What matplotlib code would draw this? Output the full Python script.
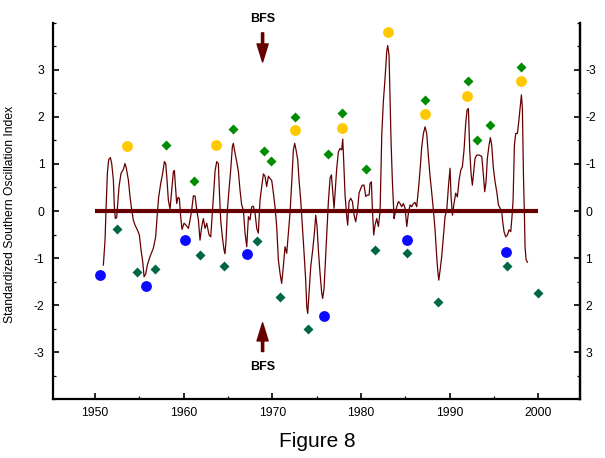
import matplotlib
matplotlib.use("Agg")
import matplotlib.pyplot as plt
from matplotlib.ticker import MultipleLocator

plt.rcParams['font.family'] = ['Liberation Sans', 'DejaVu Sans']

# ---- data ----
soi_years = [
    1950.94, 1951.13, 1951.24, 1951.39, 1951.54, 1951.73, 1951.88, 1952.07, 1952.18, 1952.29,
    1952.44, 1952.56, 1952.71, 1952.93, 1953.20, 1953.38, 1953.53, 1953.76, 1953.95, 1954.14,
    1954.32, 1954.51, 1954.77, 1955.00, 1955.19, 1955.38, 1955.53, 1955.71, 1955.90, 1956.20,
    1956.58, 1956.84, 1957.03, 1957.18, 1957.41, 1957.63, 1957.82, 1957.97, 1958.12, 1958.27,
    1958.46,
    1958.65, 1958.84, 1958.95, 1959.10, 1959.21, 1959.36, 1959.51, 1959.66, 1959.81, 1960.04,
    1960.26, 1960.53, 1960.72, 1960.90, 1961.09, 1961.28, 1961.47, 1961.66, 1961.84, 1962.03,
    1962.22, 1962.41, 1962.60, 1962.86, 1963.05, 1963.23, 1963.38, 1963.54, 1963.72, 1963.91,
    1964.02, 1964.17, 1964.36, 1964.55, 1964.66, 1964.78, 1964.93, 1965.11, 1965.30, 1965.49,
    1965.60, 1965.79, 1965.98, 1966.17, 1966.35, 1966.54, 1966.73,
    1966.92, 1967.11, 1967.30, 1967.48, 1967.67, 1967.86, 1968.05, 1968.24, 1968.42, 1968.61,
    1968.80, 1968.99, 1969.17, 1969.36, 1969.55, 1969.74, 1969.93, 1970.12, 1970.30, 1970.49,
    1970.68, 1970.87, 1971.05, 1971.24, 1971.43, 1971.62, 1971.81, 1971.99, 1972.18, 1972.37,
    1972.52, 1972.67, 1972.86, 1973.01, 1973.20, 1973.39, 1973.58, 1973.76, 1973.88, 1973.99,
    1974.14, 1974.33, 1974.55, 1974.74, 1974.89, 1975.04, 1975.19, 1975.38, 1975.57,
    1975.68, 1975.83, 1975.98, 1976.13, 1976.32, 1976.51, 1976.66, 1976.81, 1976.96, 1977.11,
    1977.26, 1977.45, 1977.64, 1977.82, 1977.94, 1978.05, 1978.20, 1978.39, 1978.50, 1978.65,
    1978.84, 1979.03, 1979.22, 1979.40, 1979.59, 1979.78, 1979.97, 1980.15, 1980.34, 1980.53,
    1980.72, 1980.91, 1981.02, 1981.17, 1981.28, 1981.43, 1981.58, 1981.77, 1981.96, 1982.15,
    1982.34, 1982.52, 1982.71, 1982.90, 1983.01, 1983.16, 1983.28, 1983.39, 1983.54, 1983.73,
    1983.84, 1984.03, 1984.22, 1984.40, 1984.59, 1984.78, 1984.97, 1985.16, 1985.34, 1985.53,
    1985.72, 1985.91, 1986.10, 1986.28, 1986.47, 1986.66, 1986.85, 1987.04, 1987.22, 1987.41,
    1987.60, 1987.79, 1987.98, 1988.16, 1988.35, 1988.54, 1988.65, 1988.77, 1988.92, 1989.10,
    1989.29, 1989.48, 1989.67, 1989.86, 1990.04, 1990.16, 1990.31, 1990.49, 1990.68, 1990.87,
    1991.06, 1991.25, 1991.43, 1991.62, 1991.81, 1991.96, 1992.11, 1992.26,
    1992.41, 1992.56, 1992.68, 1992.86, 1993.05, 1993.35, 1993.62, 1993.80, 1993.95, 1994.10,
    1994.25, 1994.44, 1994.59, 1994.74, 1994.93, 1995.12, 1995.31, 1995.50, 1995.68, 1995.87,
    1995.98, 1996.13, 1996.32, 1996.51, 1996.70, 1996.89, 1997.04, 1997.15, 1997.30, 1997.45,
    1997.64, 1997.79, 1997.94, 1998.09, 1998.20, 1998.32, 1998.43, 1998.50, 1998.62, 1998.77,
]
soi_values = [
    -1.15, -0.62, 0.02, 0.80, 1.09, 1.14, 1.01, 0.66, 0.09, -0.16,
    -0.14, 0.16, 0.52, 0.80, 0.89, 1.01, 0.91, 0.66, 0.30, 0.02,
    -0.19, -0.30, -0.40, -0.51, -0.83, -1.08, -1.40, -1.34, -1.15, -0.97,
    -0.79, -0.55, -0.05, 0.30, 0.59, 0.80, 1.05, 1.01, 0.66, 0.23,
    0.04,
    0.45, 0.84, 0.86, 0.45, 0.16, 0.29, 0.27, -0.12, -0.39, -0.26,
    -0.30, -0.37, -0.19, 0.02, 0.32, 0.32, 0.02, -0.19, -0.62, -0.34,
    -0.16, -0.37, -0.26, -0.51, -0.55, -0.05, 0.38, 0.85, 1.05, 1.01,
    0.45, -0.19, -0.55, -0.83, -0.91, -0.62, 0.02, 0.45, 0.87, 1.37,
    1.44, 1.23, 1.05, 0.84, 0.45, 0.13, 0.02,
    -0.47, -0.76, -0.12, -0.19, 0.09, 0.10, -0.05, -0.37, -0.47, 0.23,
    0.52, 0.79, 0.74, 0.52, 0.74, 0.69, 0.65, 0.38, 0.09, -0.33,
    -1.04, -1.33, -1.54, -1.18, -0.76, -0.90, -0.47, -0.05, 0.59, 1.30,
    1.44, 1.30, 1.09, 0.66, 0.23, -0.33, -0.90, -1.47, -2.04, -2.18,
    -1.75, -1.18, -0.83, -0.47, -0.09, -0.33, -0.83, -1.33, -1.75,
    -1.86, -1.65, -1.08, -0.51, 0.20, 0.70, 0.77, 0.41, 0.06, 0.48,
    0.91, 1.26, 1.33, 1.30, 1.53, 1.05, 0.34, -0.12, -0.30, 0.20,
    0.27, 0.20, -0.09, -0.23, -0.01, 0.38, 0.48, 0.55, 0.55, 0.31,
    0.34, 0.34, 0.59, 0.62, 0.06, -0.51, -0.30, -0.16, -0.33, -0.01,
    1.62, 2.33, 2.82, 3.39, 3.52, 3.32, 2.33, 1.47, 0.62, -0.16,
    -0.05, 0.09, 0.20, 0.16, 0.09, 0.16, 0.06, -0.33, -0.05, 0.13,
    0.09, 0.16, 0.18, 0.09, 0.45, 0.87, 1.37, 1.65, 1.79, 1.65,
    1.16, 0.73, 0.38, 0.02, -0.40, -0.97, -1.26, -1.47, -1.26, -0.97,
    -0.55, -0.12, 0.02, 0.52, 0.91, 0.30, -0.09, 0.16, 0.38, 0.30,
    0.66, 0.87, 0.94, 1.30, 1.87, 2.15, 2.18, 1.30,
    0.80, 0.55, 0.77, 1.12, 1.19, 1.19, 1.16, 0.77, 0.41, 0.62,
    1.12, 1.40, 1.56, 1.40, 0.91, 0.62, 0.41, 0.13, 0.06, -0.01,
    -0.23, -0.44, -0.55, -0.51, -0.40, -0.44, -0.09, 0.23, 1.40, 1.65,
    1.65, 1.90, 2.19, 2.47, 2.19, 0.77, -0.09, -0.76, -1.04, -1.09,
]

zero_line_years = [1950, 2000]
zero_line_values = [0, 0]

yellow_years = [1953.6, 1963.7, 1972.6, 1977.9, 1983.0, 1987.2, 1992.0, 1998.1]
yellow_values = [1.38, 1.40, 1.72, 1.76, 3.80, 2.06, 2.45, 2.77]

green_years = [1958.0, 1961.2, 1965.6, 1969.1, 1969.9, 1972.6, 1976.3, 1977.9,
               1980.6, 1983.1, 1987.2, 1992.1, 1993.1, 1994.5, 1998.1]
green_values = [1.40, 0.63, 1.74, 1.27, 1.06, 2.01, 1.22, 2.08,
                0.89, 4.15, 2.36, 2.77, 1.50, 1.84, 3.06]

blue_years = [1950.6, 1955.8, 1960.1, 1967.1, 1975.8, 1985.2, 1996.4]
blue_values = [-1.37, -1.60, -0.62, -0.91, -2.23, -0.62, -0.87]

dkgreen_years = [1952.5, 1954.7, 1956.8, 1961.8, 1964.6, 1968.3, 1970.9, 1974.0,
                 1981.6, 1985.2, 1988.7, 1996.5, 2000.0]
dkgreen_values = [-0.39, -1.30, -1.24, -0.93, -1.17, -0.64, -1.84, -2.52,
                  -0.82, -0.90, -1.94, -1.16, -1.75]

bfs_year = 1968.9
y_ticks = [-3, -2, -1, 0, 1, 2, 3]
left_labels = ['-3', '-2', '-1', '0', '1', '2', '3']
right_labels = ['3', '2', '1', '0', '-1', '-2', '-3']
x_ticks = [1950, 1960, 1970, 1980, 1990, 2000]

# ---- figure ----
fig = plt.figure(figsize=(6.05, 4.58), dpi=100)
ax = fig.add_axes([0.0876, 0.1288, 0.8711, 0.821])
ax.set_xlim(1945.26, 2004.70)
ax.set_ylim(-4, 4)

dark_red = '#660000'
ax.plot(zero_line_years, zero_line_values, color=dark_red, lw=3.0, solid_capstyle='butt', zorder=2)
ax.plot(soi_years, soi_values, color=dark_red, lw=0.9, zorder=3)

ax.plot(yellow_years, yellow_values, 'o', color='#FFC800', ms=7.8, mec='none', zorder=4)
ax.plot(green_years, green_values, 'D', color='#008C00', ms=5.6, mec='none', zorder=4)
ax.plot(blue_years, blue_values, 'o', color='#0A0AFF', ms=7.8, mec='none', zorder=4)
ax.plot(dkgreen_years, dkgreen_values, 'D', color='#006647', ms=5.6, mec='none', zorder=4)

arrow_kw = dict(facecolor=dark_red, edgecolor=dark_red, width=1.6, headwidth=8,
                headlength=13, shrink=0)
ax.annotate('', xy=(bfs_year, 3.17), xytext=(bfs_year, 3.79), arrowprops=arrow_kw,
            annotation_clip=False)
ax.annotate('', xy=(bfs_year, -2.38), xytext=(bfs_year, -2.99), arrowprops=arrow_kw)
ax.text(bfs_year, 4.09, 'BFS', ha='center', va='center', fontsize=9, fontweight='bold',
        clip_on=False)
ax.text(bfs_year, -3.31, 'BFS', ha='center', va='center', fontsize=9, fontweight='bold')

# spines
for s in ['left', 'bottom', 'right']:
    ax.spines[s].set_linewidth(1.6)
    ax.spines[s].set_color('black')
ax.spines['top'].set_visible(False)

ax.set_xticks(x_ticks)
ax.set_xticklabels([str(v) for v in x_ticks])
ax.xaxis.set_minor_locator(MultipleLocator(5))
ax.set_yticks(y_ticks)
ax.set_yticklabels(left_labels)
ax.yaxis.set_minor_locator(MultipleLocator(0.5))
ax.tick_params(axis='both', which='major', direction='in', length=4.5, width=1.2,
               labelsize=8.7, pad=6)
ax.tick_params(axis='both', which='minor', direction='in', length=2.2, width=0.9)
ax.tick_params(axis='x', top=False, which='both')

ax2 = ax.twinx()
ax2.set_ylim(-4, 4)
ax2.set_yticks(y_ticks)
ax2.set_yticklabels(right_labels)
ax2.yaxis.set_minor_locator(MultipleLocator(0.5))
ax2.tick_params(axis='y', which='major', direction='in', length=4.5, width=1.2,
                labelsize=8.7, pad=4)
ax2.tick_params(axis='y', which='minor', direction='in', length=2.2, width=0.9)
for s in ['top', 'left', 'bottom']:
    ax2.spines[s].set_visible(False)
ax2.spines['right'].set_linewidth(1.6)

fig.text(0.016, 0.533, 'Standardized Southern Oscillation Index', rotation=90,
         ha='center', va='center', fontsize=8.7)
fig.text(0.524, 0.035, 'Figure 8', ha='center', va='center', fontsize=15)

fig.savefig('out.png', dpi=100)
